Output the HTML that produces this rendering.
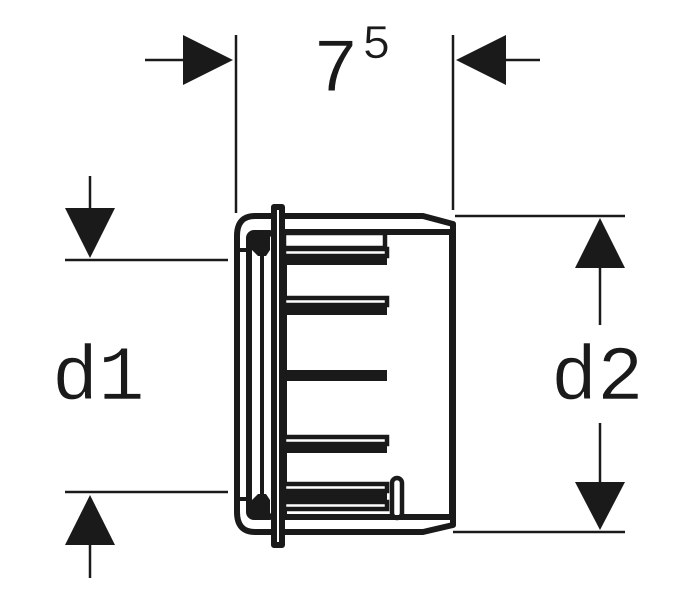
<!DOCTYPE html>
<html><head><meta charset="utf-8"><style>html,body{margin:0;padding:0;background:#fff}svg{display:block}</style></head>
<body>
<svg width="700" height="600" viewBox="0 0 700 600" xmlns="http://www.w3.org/2000/svg">
<g stroke="#1a1a1a" stroke-width="2.5" fill="none">
  <line x1="236" y1="35" x2="236" y2="213"/>
  <line x1="453" y1="35" x2="453" y2="210"/>
  <line x1="145" y1="60" x2="185" y2="60"/>
  <line x1="505" y1="60" x2="540" y2="60"/>
  <line x1="65" y1="260" x2="228" y2="260"/>
  <line x1="65" y1="492" x2="228" y2="492"/>
  <line x1="90" y1="176" x2="90" y2="210"/>
  <line x1="90" y1="543" x2="90" y2="578"/>
  <line x1="455" y1="216" x2="625" y2="216"/>
  <line x1="453" y1="532" x2="625" y2="532"/>
  <line x1="600" y1="266" x2="600" y2="325"/>
  <line x1="600" y1="423" x2="600" y2="484"/>
</g>
<g fill="#1a1a1a">
  <polygon points="183,35 233,60 183,85"/>
  <polygon points="506,35 456,60 506,85"/>
  <polygon points="65,208 115,208 90,258"/>
  <polygon points="65,545 115,545 90,495"/>
  <polygon points="575,268 625,268 600,218"/>
  <polygon points="575,482 625,482 600,530"/>
</g>
<g stroke="#1a1a1a" stroke-width="6" fill="#fff" stroke-linejoin="round">
  <path d="M255,216 H423 L453,224 V525 L423,532 H255 Q237,532 237,512 V236 Q237,216 255,216 Z"/>
  <rect x="274" y="207" width="8" height="338"/>
  <rect x="284" y="232" width="168" height="285"/>
  <rect x="249" y="233" width="25" height="284" rx="5"/>
  <line x1="262" y1="237" x2="262" y2="513" stroke-width="4"/>
</g>
<g fill="#1a1a1a">
  <polygon points="252,236 270,236 270,250 266,256 258,256 252,250"/>
  <polygon points="252,514 270,514 270,500 266,494 258,494 252,500"/>
  <rect x="238" y="248" width="14" height="4"/>
  <rect x="238" y="497" width="14" height="4"/>
</g>
<g stroke="#1a1a1a" stroke-width="4.5" fill="#fff">
  <rect x="284" y="233" width="101" height="15"/>
  <rect x="284" y="249" width="103" height="7"/>
  <rect x="284" y="298" width="103" height="7"/>
  <rect x="284" y="437" width="103" height="7"/>
  <rect x="284" y="484" width="103" height="7"/>
  <rect x="284" y="502" width="103" height="7"/>
  <rect x="392" y="478" width="10" height="40" rx="5"/>
</g>
<g fill="#1a1a1a">
  <rect x="284" y="256" width="103" height="9"/>
  <rect x="284" y="305" width="103" height="10"/>
  <rect x="284" y="370" width="103" height="11"/>
  <rect x="284" y="444" width="103" height="9"/>
  <rect x="284" y="491" width="103" height="11"/>
  <rect x="284" y="515" width="170" height="4"/>
</g>
<g style="font-family:'Liberation Mono',monospace" fill="#1a1a1a" stroke="#fff" stroke-width="0.6">
  <text x="313" y="91" font-size="76">7</text>
  <text x="362" y="58" font-size="48">5</text>
  <text x="52" y="399" font-size="77">d1</text>
  <text x="551" y="399" font-size="77">d2</text>
</g>
</svg>
</body></html>
